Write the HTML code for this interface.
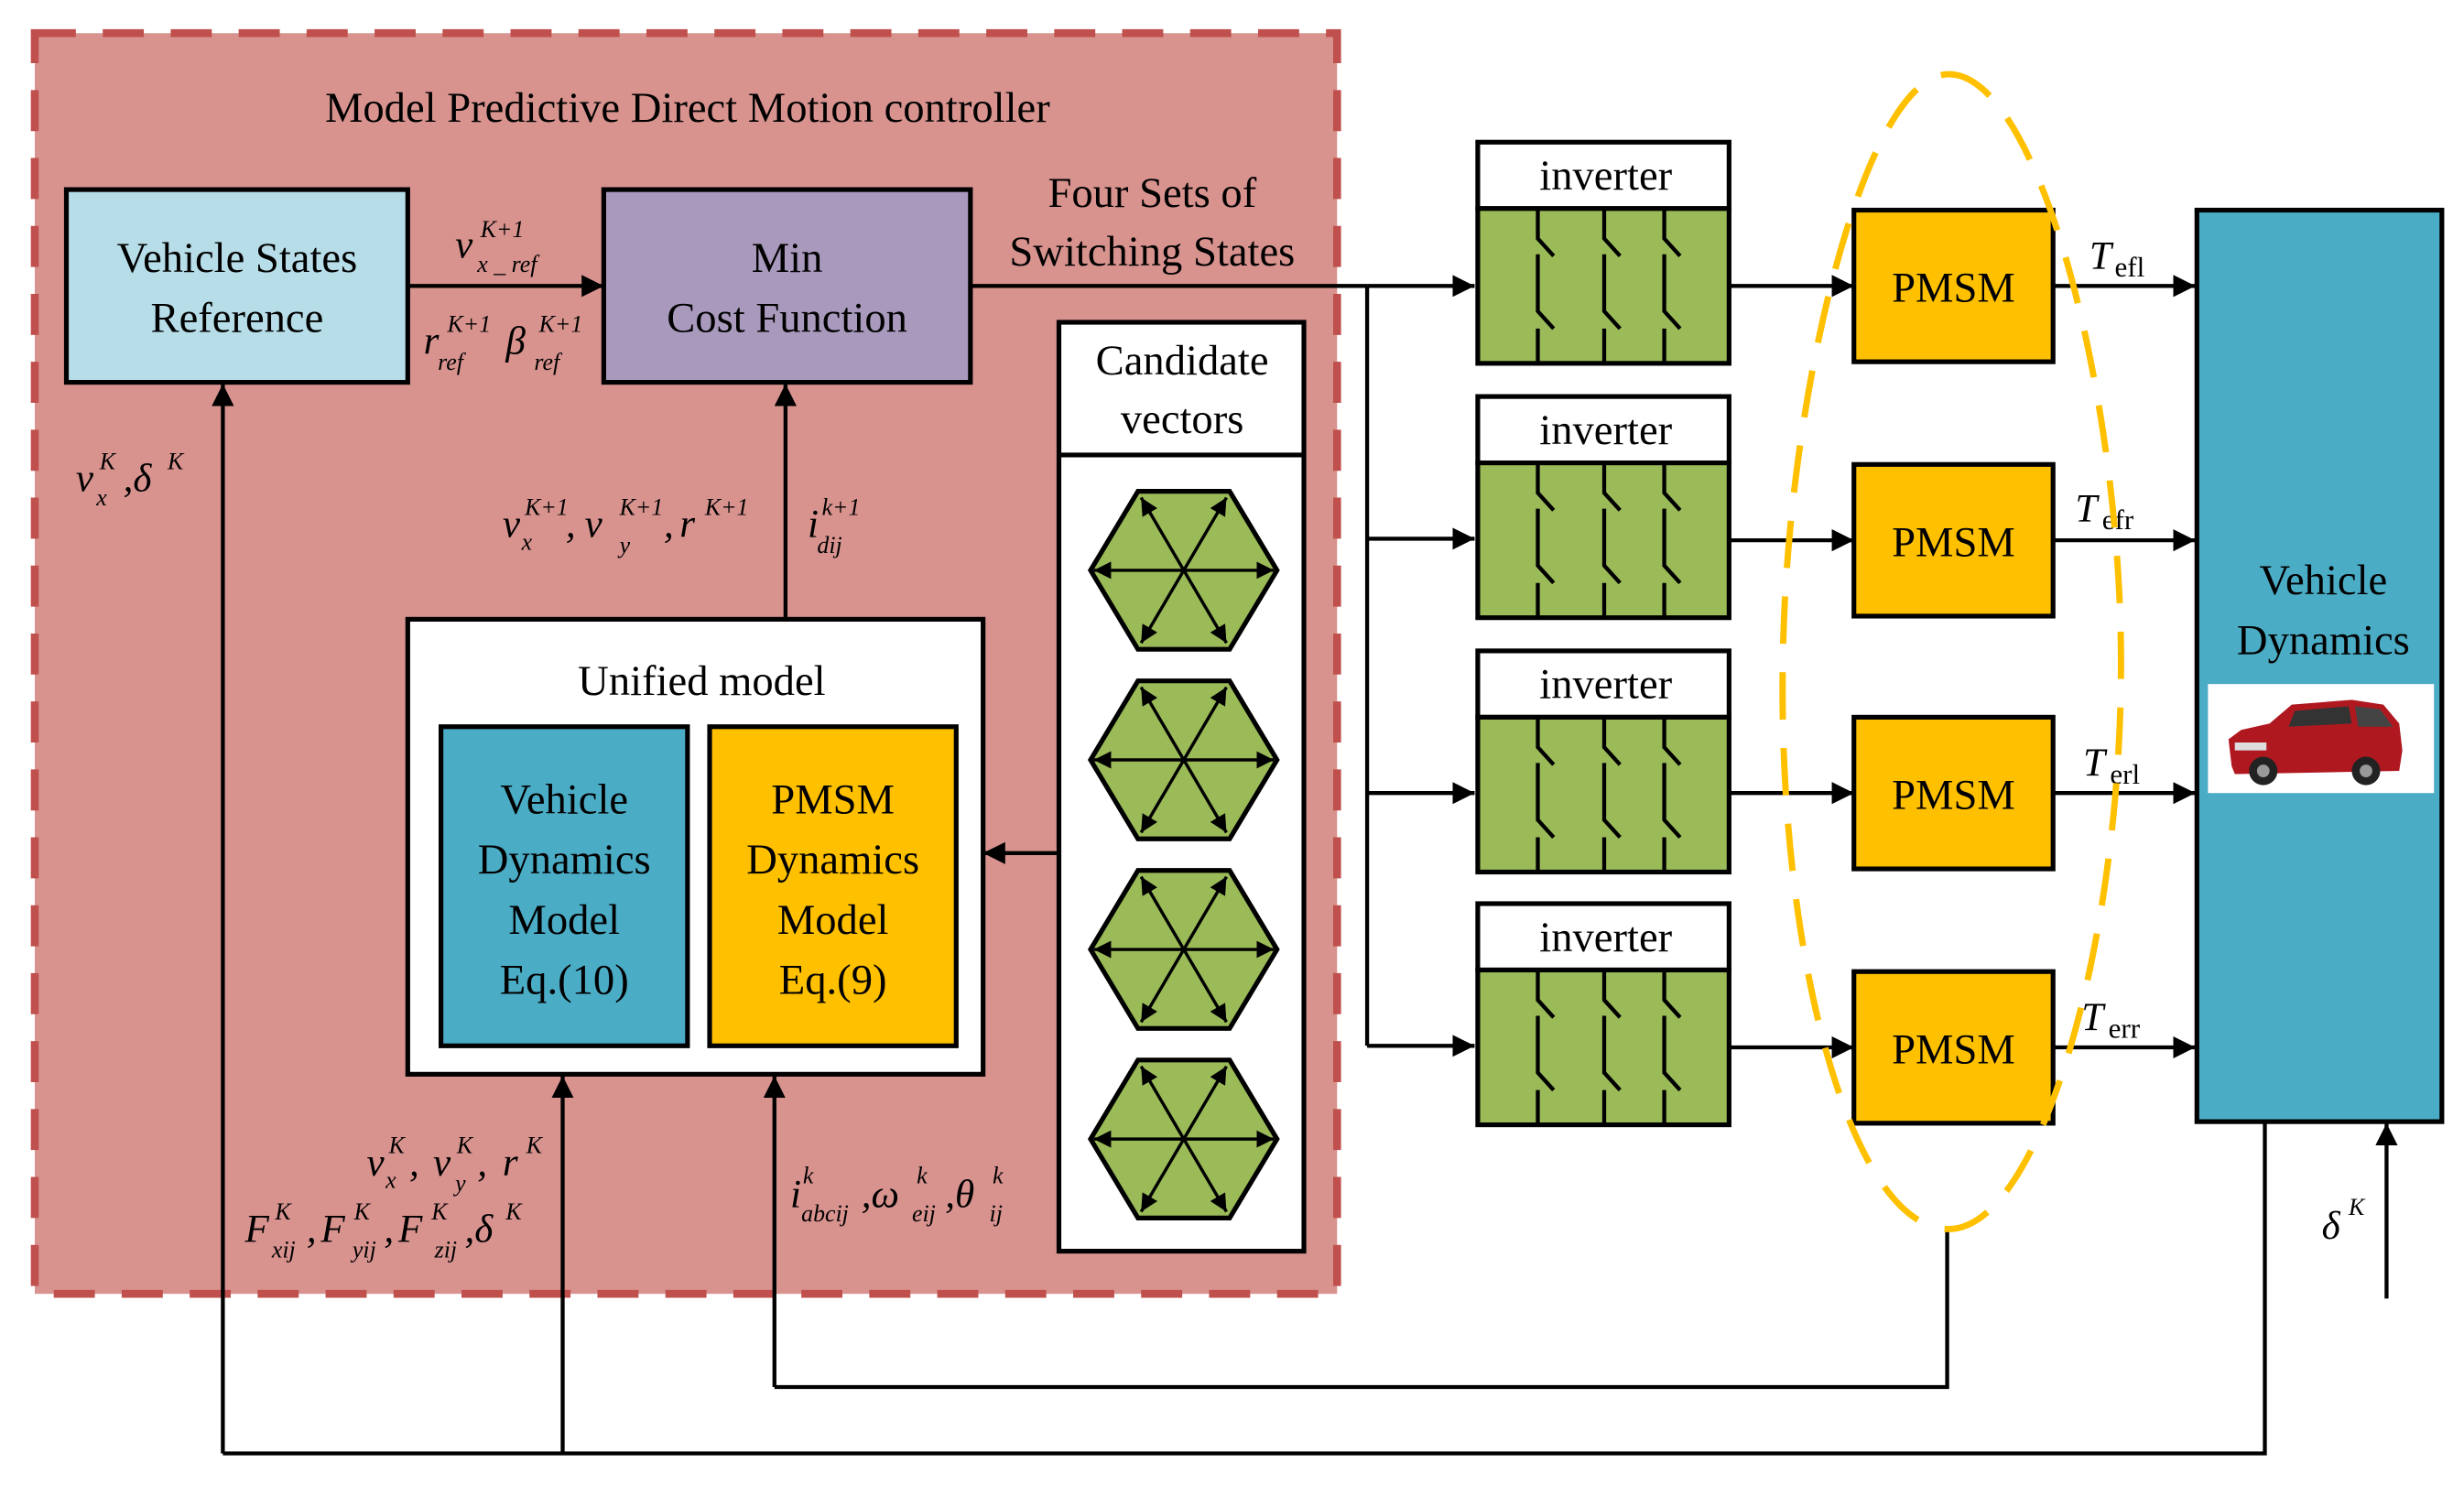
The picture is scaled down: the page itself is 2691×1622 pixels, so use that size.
<!DOCTYPE html>
<html><head><meta charset="utf-8"><style>
html,body{margin:0;padding:0;background:#fff;}
svg{display:block;}
text{font-family:"Liberation Serif",serif;fill:#000;}
.b{font-size:27px;}
.m{font-style:italic;font-size:25px;}
.s{font-style:italic;font-size:15px;}
</style></head><body>
<svg width="2691" height="1622" viewBox="0 0 1559 940" preserveAspectRatio="none" xmlns="http://www.w3.org/2000/svg">
<defs>
<marker id="a" viewBox="0 0 10 10" refX="10" refY="5" markerWidth="14" markerHeight="14" markerUnits="userSpaceOnUse" orient="auto-start-reverse"><path d="M0,0L10,5L0,10z" fill="#000"/></marker>
<marker id="h" viewBox="0 0 10 10" refX="10" refY="5" markerWidth="11" markerHeight="11" markerUnits="userSpaceOnUse" orient="auto-start-reverse"><path d="M0,0L10,5L0,10z" fill="#000"/></marker>
</defs>
<!-- controller region -->
<rect x="22" y="21" width="824" height="798" fill="#d8938f" stroke="#c0504d" stroke-width="5" stroke-dasharray="26 17"/>
<text x="435" y="77" text-anchor="middle" class="b" font-size="26">Model Predictive Direct Motion  controller</text>

<rect x="42" y="120" width="216" height="122" fill="#b7dde8" stroke="#000" stroke-width="3"/>
<text x="150" y="172" text-anchor="middle" class="b">Vehicle States</text>
<text x="150" y="210" text-anchor="middle" class="b">Reference</text>

<rect x="382" y="120" width="232" height="122" fill="#a99abd" stroke="#000" stroke-width="3"/>
<text x="498" y="172" text-anchor="middle" class="b">Min</text>
<text x="498" y="210" text-anchor="middle" class="b">Cost Function</text>

<line x1="258" y1="181" x2="382" y2="181" stroke="#000" stroke-width="2.5" marker-end="url(#a)"/>
<text x="288" y="163" class="m">v</text><text x="304" y="150" class="s">K+1</text><text x="302" y="172" class="s">x _ ref</text>
<text x="268" y="224" class="m">r</text><text x="283" y="210" class="s">K+1</text><text x="277" y="234" class="s">ref</text>
<text x="320" y="224" class="m">β</text><text x="341" y="210" class="s">K+1</text><text x="338" y="234" class="s">ref</text>

<text x="729" y="131" text-anchor="middle" class="b">Four Sets of</text>
<text x="729" y="168" text-anchor="middle" class="b">Switching States</text>

<!-- distribution lines -->
<polyline points="614,181 865,181" fill="none" stroke="#000" stroke-width="2.5"/>
<line x1="865" y1="181" x2="865" y2="662" stroke="#000" stroke-width="2.5"/>
<line x1="865" y1="181" x2="933" y2="181" stroke="#000" stroke-width="2.5" marker-end="url(#a)"/>
<line x1="865" y1="341" x2="933" y2="341" stroke="#000" stroke-width="2.5" marker-end="url(#a)"/>
<line x1="865" y1="502" x2="933" y2="502" stroke="#000" stroke-width="2.5" marker-end="url(#a)"/>
<line x1="865" y1="662" x2="933" y2="662" stroke="#000" stroke-width="2.5" marker-end="url(#a)"/>

<!-- candidate vectors -->
<rect x="670" y="204" width="155" height="588" fill="#fff" stroke="#000" stroke-width="3"/>
<line x1="670" y1="288" x2="825" y2="288" stroke="#000" stroke-width="3"/>
<text x="748" y="237" text-anchor="middle" class="b">Candidate</text>
<text x="748" y="274" text-anchor="middle" class="b">vectors</text>
<g id="hex">
<polygon points="720,311 778,311 808,361 778,411 720,411 690,361" fill="#9bbb59" stroke="#000" stroke-width="3"/>
<line x1="722" y1="315" x2="776" y2="407" stroke="#000" stroke-width="2" marker-start="url(#h)" marker-end="url(#h)"/>
<line x1="776" y1="315" x2="722" y2="407" stroke="#000" stroke-width="2" marker-start="url(#h)" marker-end="url(#h)"/>
<line x1="692" y1="361" x2="806" y2="361" stroke="#000" stroke-width="2" marker-start="url(#h)" marker-end="url(#h)"/>
</g>
<use href="#hex" y="120"/>
<use href="#hex" y="240"/>
<use href="#hex" y="360"/>

<line x1="670" y1="540" x2="622" y2="540" stroke="#000" stroke-width="2.5" marker-end="url(#a)"/>

<!-- unified model -->
<rect x="258" y="392" width="364" height="288" fill="#fff" stroke="#000" stroke-width="3"/>
<text x="444" y="440" text-anchor="middle" class="b">Unified model</text>
<rect x="279" y="460" width="156" height="202" fill="#4bacc6" stroke="#000" stroke-width="3"/>
<text x="357" y="515" text-anchor="middle" class="b">Vehicle</text>
<text x="357" y="553" text-anchor="middle" class="b">Dynamics</text>
<text x="357" y="591" text-anchor="middle" class="b">Model</text>
<text x="357" y="629" text-anchor="middle" class="b">Eq.(10)</text>
<rect x="449" y="460" width="156" height="202" fill="#ffc000" stroke="#000" stroke-width="3"/>
<text x="527" y="515" text-anchor="middle" class="b">PMSM</text>
<text x="527" y="553" text-anchor="middle" class="b">Dynamics</text>
<text x="527" y="591" text-anchor="middle" class="b">Model</text>
<text x="527" y="629" text-anchor="middle" class="b">Eq.(9)</text>

<line x1="497" y1="392" x2="497" y2="243" stroke="#000" stroke-width="2.5" marker-end="url(#a)"/>
<text x="318" y="340" class="m">v</text><text x="332" y="326" class="s">K+1</text><text x="330" y="348" class="s">x</text>
<text x="358" y="340" class="m">,</text>
<text x="370" y="340" class="m">v</text><text x="392" y="326" class="s">K+1</text><text x="392" y="350" class="s">y</text>
<text x="420" y="340" class="m">,</text>
<text x="430" y="340" class="m">r</text><text x="446" y="326" class="s">K+1</text>
<text x="511" y="340" class="m">i</text><text x="520" y="326" class="s">k+1</text><text x="517" y="350" class="s">dij</text>

<!-- feedback lines -->
<line x1="141" y1="920" x2="141" y2="243" stroke="#000" stroke-width="2.5" marker-end="url(#a)"/>
<text x="48" y="311" class="m">v</text><text x="63" y="297" class="s">K</text><text x="61" y="320" class="s">x</text>
<text x="78" y="311" class="m">,δ</text><text x="106" y="297" class="s">K</text>

<line x1="356" y1="920" x2="356" y2="681" stroke="#000" stroke-width="2.5" marker-end="url(#a)"/>
<line x1="490" y1="878" x2="490" y2="681" stroke="#000" stroke-width="2.5" marker-end="url(#a)"/>
<polyline points="141,920 1433,920 1433,710" fill="none" stroke="#000" stroke-width="2.5"/>
<polyline points="490,878 1232,878 1232,778" fill="none" stroke="#000" stroke-width="2.5"/>

<text x="232" y="744" class="m">v</text><text x="246" y="730" class="s">K</text><text x="244" y="752" class="s">x</text>
<text x="259" y="744" class="m">,</text>
<text x="274" y="744" class="m">v</text><text x="289" y="730" class="s">K</text><text x="288" y="754" class="s">y</text>
<text x="302" y="744" class="m">,</text>
<text x="318" y="744" class="m">r</text><text x="333" y="730" class="s">K</text>
<text x="155" y="786" class="m">F</text><text x="174" y="772" class="s">K</text><text x="172" y="796" class="s">xij</text>
<text x="194" y="786" class="m">,</text>
<text x="203" y="786" class="m">F</text><text x="224" y="772" class="s">K</text><text x="223" y="796" class="s">yij</text>
<text x="243" y="786" class="m">,</text>
<text x="252" y="786" class="m">F</text><text x="273" y="772" class="s">K</text><text x="275" y="796" class="s">zij</text>
<text x="294" y="786" class="m">,δ</text><text x="320" y="772" class="s">K</text>

<text x="500" y="764" class="m">i</text><text x="508" y="749" class="s">k</text><text x="507" y="773" class="s">abcij</text>
<text x="545" y="764" class="m">,ω</text><text x="580" y="749" class="s">k</text><text x="577" y="773" class="s">eij</text>
<text x="598" y="764" class="m">,θ</text><text x="628" y="749" class="s">k</text><text x="626" y="773" class="s">ij</text>

<!-- inverters -->
<g id="inv">
<rect x="935" y="90" width="159" height="42" fill="#fff" stroke="#000" stroke-width="3"/>
<text x="1016" y="120" text-anchor="middle" class="b">inverter</text>
<rect x="935" y="132" width="159" height="98" fill="#9bbb59" stroke="#000" stroke-width="3"/>
<g stroke="#000" stroke-width="2.5" fill="none">
<path d="M973,132V151L983,162M973,161V197L983,208M973,208V230"/>
<path d="M1015,132V151L1025,162M1015,161V197L1025,208M1015,208V230"/>
<path d="M1053,132V151L1063,162M1053,161V197L1063,208M1053,208V230"/>
</g>
</g>
<use href="#inv" y="161"/>
<use href="#inv" y="322"/>
<use href="#inv" y="482"/>

<!-- PMSMs -->
<g id="pm">
<line x1="1094" y1="181" x2="1173" y2="181" stroke="#000" stroke-width="2.5" marker-end="url(#a)"/>
<rect x="1173" y="133" width="126" height="96" fill="#ffc000" stroke="#000" stroke-width="3"/>
<text x="1236" y="191" text-anchor="middle" class="b" font-size="27">PMSM</text>
<line x1="1299" y1="181" x2="1389" y2="181" stroke="#000" stroke-width="2.5" marker-end="url(#a)"/>
</g>
<use href="#pm" y="161"/>
<use href="#pm" y="321"/>
<use href="#pm" y="482"/>
<text x="1322" y="170" class="m">T</text><text x="1338" y="175" font-size="18">efl</text>
<text x="1313" y="330" class="m">T</text><text x="1330" y="335" font-size="18">efr</text>
<text x="1318" y="491" class="m">T</text><text x="1335" y="496" font-size="18">erl</text>
<text x="1317" y="652" class="m">T</text><text x="1334" y="657" font-size="18">err</text>

<!-- ellipse -->
<path d="M1233,47 C1290,47 1342,250 1342,420 C1342,600 1290,778 1233,778 C1170,778 1125,600 1128,420 C1130,250 1180,47 1233,47Z" fill="none" stroke="#ffc000" stroke-width="4" stroke-dasharray="30 18"/>

<!-- vehicle dynamics -->
<rect x="1390" y="133" width="155" height="577" fill="#4bacc6" stroke="#000" stroke-width="3"/>
<text x="1470" y="376" text-anchor="middle" class="b">Vehicle</text>
<text x="1470" y="414" text-anchor="middle" class="b">Dynamics</text>
<rect x="1397" y="433" width="143" height="69" fill="#fff"/>
<g>
<path d="M1412,485 L1410,468 L1418,462 L1436,458 L1450,446 L1488,443 L1508,446 L1518,458 L1520,475 L1518,488 L1414,490Z" fill="#b01820"/>
<path d="M1452,450 L1486,447 L1488,458 L1448,460Z" fill="#333"/>
<path d="M1490,447 L1506,449 L1514,460 L1492,460Z" fill="#444"/>
<circle cx="1432" cy="488" r="9" fill="#222"/><circle cx="1497" cy="488" r="9" fill="#222"/>
<circle cx="1432" cy="488" r="4" fill="#999"/><circle cx="1497" cy="488" r="4" fill="#999"/>
<rect x="1414" y="470" width="20" height="5" fill="#ddd"/>
</g>
<line x1="1510" y1="822" x2="1510" y2="711" stroke="#000" stroke-width="2.5" marker-end="url(#a)"/>
<text x="1469" y="784" class="m">δ</text><text x="1486" y="769" class="s">K</text>
</svg>
</body></html>
